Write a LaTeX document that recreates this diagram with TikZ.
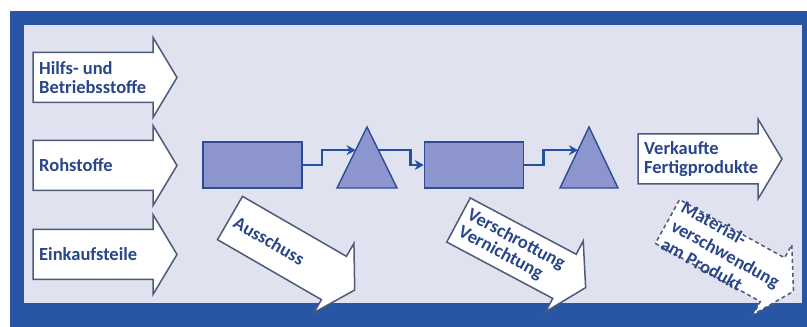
\documentclass[tikz,border=0pt]{standalone}
\usepackage{fontspec}
\setmainfont{Carlito}
\usetikzlibrary{calc}
\usetikzlibrary{arrows.meta}
\definecolor{frameblue}{RGB}{40,86,164}
\definecolor{innerbg}{RGB}{224,226,240}
\definecolor{boxfill}{RGB}{140,149,205}
\definecolor{boxline}{RGB}{46,76,150}
\definecolor{textblue}{RGB}{42,70,138}
\definecolor{arrowline}{RGB}{78,90,122}
\definecolor{flowblue}{RGB}{36,80,160}
\def\bodyL{120}
\def\bodyH{25}
\def\headL{24}
\def\headH{40}
\tikzset{
  arrowshape/.style={draw=arrowline, fill=white, line width=1.5pt, line join=miter},
  arrowtext/.style={anchor=west, inner sep=0pt, align=left, text=textblue, transform shape,
    font=\bfseries\fontsize{18.5}{19}\selectfont},
  wasteline/.style={dash pattern=on 4pt off 3pt},
  stepbox/.style={draw=boxline, fill=boxfill, line width=1.6pt, minimum width=99pt,
    minimum height=46pt, inner sep=0pt},
  storetri/.style={draw=boxline, fill=boxfill, line width=1.4pt, line join=miter},
  flowline/.style={draw=flowblue, line width=2.6pt, ->, >={Stealth[length=9pt,width=10pt]}},
  pics/fatarrow/.style={code={
    \path[arrowshape] (0,-\bodyH) -- (\bodyL,-\bodyH) -- (\bodyL,-\headH)
      -- (\bodyL+\headL,0) -- (\bodyL,\headH) -- (\bodyL,\bodyH) -- (0,\bodyH) -- cycle;
    \node[arrowtext] (-text) at (6,0) {#1};
  }},
}
\begin{document}
\begin{tikzpicture}[x=1pt, y=1pt]
        \useasboundingbox (0,0) rectangle (807,327);
        % frame
        \fill[frameblue] (10,0) rectangle (807,316);
        \fill[innerbg] (24,24) rectangle (802,302);

        % inputs
        \pic (hilfs) at (33,249.5) {fatarrow={Hilfs- und\\Betriebsstoffe}};
        \pic (roh) at (33,161.5) {fatarrow={Rohstoffe}};
        \pic (einkauf) at (33,72.5) {fatarrow={Einkaufsteile}};

        % process chain
        \node[stepbox] (mach1) at (252.5,162) {};
        \node[stepbox] (mach2) at (474,162) {};

        \coordinate (t1l) at (337,139);
        \coordinate (t1a) at (367,200);
        \coordinate (t1r) at (397,139);
        \path[storetri] (t1l) -- (t1a) -- (t1r) -- cycle;

        \coordinate (t2l) at (560,139);
        \coordinate (t2a) at (589,200);
        \coordinate (t2r) at (618,139);
        \path[storetri] (t2l) -- (t2a) -- (t2r) -- cycle;

        \coordinate (t1in) at ($(t1l)!0.62!(t1a)$);
        \coordinate (t1out) at ($(t1r)!0.62!(t1a)$);
        \coordinate (t2in) at ($(t2l)!0.62!(t2a)$);

        \draw[flowline] (mach1.east) -- ++(19,0) |- (t1in);
        \draw[flowline] (t1out) -- ++(32,0) |- (mach2.west);
        \draw[flowline] (mach2.east) -- ++(19,0) |- (t2in);

        % output
        \pic (verkauf) at (638,168) {fatarrow={Verkaufte\\Fertigprodukte}};

        % losses
        \pic (aus) [rotate=-30] at (230,109) {fatarrow={Ausschuss}};
        \pic (schrott) [rotate=-28] at (458.5,107) {fatarrow={Verschrottung\\Vernichtung}};
        \pic (material) [rotate=-29, wasteline] at (667.5,105.5)
            {fatarrow={Material-\\[2pt]verschwendung\\[2pt]am Produkt}};
    \end{tikzpicture}
\end{document}
